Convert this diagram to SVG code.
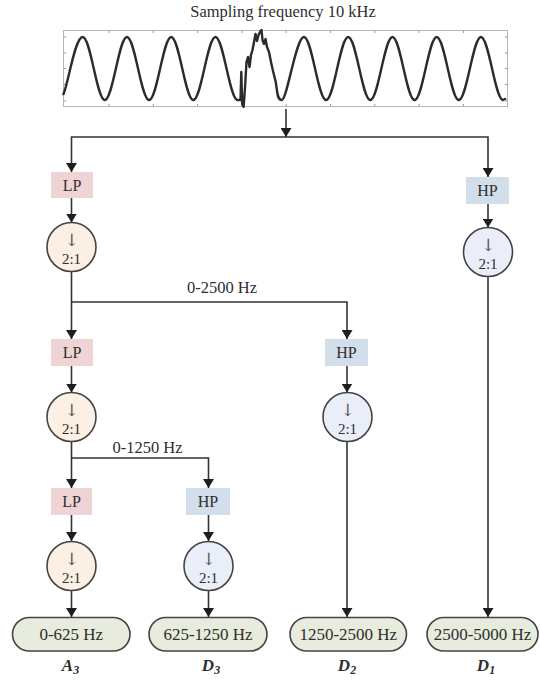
<svg xmlns="http://www.w3.org/2000/svg" width="540" height="682" viewBox="0 0 540 682">
<defs>
<style>
text{font-family:"Liberation Serif","Times New Roman",serif;fill:#2e2e2e;text-anchor:middle}
.t{font-size:16.5px}
.bx{font-size:16px}
.ds{font-size:15px}
.ar{font-size:17px;fill:#555;font-family:"DejaVu Serif","Liberation Serif",serif}
.pt{font-size:17px}
.lb{font-size:17px;font-weight:bold;font-style:italic}
.ln{stroke:#333;stroke-width:1.6;fill:none}
.lp{fill:#eed4d4}
.hp{fill:#d2deea}
.cl{fill:#fcefe3;stroke:#444;stroke-width:1.6}
.ch{fill:#eaeef8;stroke:#444;stroke-width:1.6}
.pill{fill:#e8ecdc;stroke:#444;stroke-width:1.6}
.tk{stroke:#999;stroke-width:1}
</style>
<marker id="ah" viewBox="0 0 9 11" refX="9" refY="5.5" markerWidth="9" markerHeight="11" markerUnits="userSpaceOnUse" orient="auto">
<path d="M0,0 L9,5.5 L0,11 z" fill="#1e1e1e"/>
</marker>
</defs>
<rect width="540" height="682" fill="#ffffff"/>

<g id="title"><text class="t" x="283" y="17">Sampling frequency 10 kHz</text></g>

<g id="signal">
<rect x="63.5" y="30.5" width="444" height="76" fill="none" stroke="#b5b5b5" stroke-width="1"/>
<path class="tk" d="M109,31v2M153.3,31v2M197.6,31v2M241.9,31v2M286.2,31v2M330.5,31v2M374.8,31v2M419.1,31v2M463.4,31v2M109,106v-2M153.3,106v-2M197.6,106v-2M241.9,106v-2M286.2,106v-2M330.5,106v-2M374.8,106v-2M419.1,106v-2M463.4,106v-2M64,37h2M64,53h2M64,68.5h2M64,84.5h2M64,101h2M507,37h-2M507,53h-2M507,68.5h-2M507,84.5h-2M507,101h-2"/>
<path fill="none" stroke="#2b2b2b" stroke-width="2.4" stroke-linejoin="round" d="M63,95 C68,86 74.66,37 82.7,37 S96.76,100 104.8,100 S118.91,37 126.95,37 S141.06,100 149.1,100 S163.16,37 171.2,37 S185.26,100 193.3,100 S207.41,37 215.45,37 S229.56,100 237.6,100 L240.5,100 L241.3,72 L242.2,104 L243.6,107 L245,88 L246.5,62 L248,57 L249.5,67 L251,55 L252.5,50 L254,42 L255.5,34 L257,41 L258.5,35 L260,32 L261.5,30 L262.5,40 L264,44 L265.5,39 L267,47 L269,52 L271,62 L273,71 L275.5,81 C277.5,90 276.5,100 281.8,100 S295.91,37 303.95,37 S318.06,100 326.1,100 S340.16,37 348.2,37 S362.26,100 370.3,100 S384.41,37 392.45,37 S406.56,100 414.6,100 S428.66,37 436.7,37 S450.76,100 458.8,100 S472.91,37 480.95,37 S495.06,100 503.1,100 L506,98.5"/>
</g>

<g id="connectors">
<path class="ln" d="M286,109 V137" marker-end="url(#ah)"/>
<path class="ln" d="M286,137 H71.5 V172" marker-end="url(#ah)"/>
<path class="ln" d="M286,137 H488 V177" marker-end="url(#ah)"/>
<path class="ln" d="M71.5,198 V222.5" marker-end="url(#ah)"/>
<path class="ln" d="M488,204 V227.5" marker-end="url(#ah)"/>
<path class="ln" d="M71.5,271.5 V339" marker-end="url(#ah)"/>
<path class="ln" d="M71.5,302 H347 V339" marker-end="url(#ah)"/>
<path class="ln" d="M488,276.5 V617" marker-end="url(#ah)"/>
<path class="ln" d="M71.5,366 V392.5" marker-end="url(#ah)"/>
<path class="ln" d="M347,366 V392.5" marker-end="url(#ah)"/>
<path class="ln" d="M347,441.5 V617" marker-end="url(#ah)"/>
<path class="ln" d="M71.5,441.5 V488" marker-end="url(#ah)"/>
<path class="ln" d="M71.5,458 H208.5 V488" marker-end="url(#ah)"/>
<path class="ln" d="M71.5,515 V541" marker-end="url(#ah)"/>
<path class="ln" d="M208.5,515 V541" marker-end="url(#ah)"/>
<path class="ln" d="M71.5,591 V617" marker-end="url(#ah)"/>
<path class="ln" d="M208.5,591 V617" marker-end="url(#ah)"/>
<text class="t" x="222" y="293">0-2500 Hz</text>
<text class="t" x="147.5" y="453">0-1250 Hz</text>
</g>

<g id="lp1"><rect class="lp" x="51" y="172" width="42" height="26"/><text class="bx" x="72" y="190.5">LP</text></g>
<g id="down1"><circle class="cl" cx="71.5" cy="247" r="24.5"/><text class="ar" x="71.5" y="245.5">↓</text><text class="ds" x="71.5" y="263.5">2:1</text></g>
<g id="hp1"><rect class="hp" x="466" y="177" width="43" height="27"/><text class="bx" x="487.5" y="196">HP</text></g>
<g id="downh1"><circle class="ch" cx="488" cy="252" r="24.5"/><text class="ar" x="488" y="250.5">↓</text><text class="ds" x="488" y="268.5">2:1</text></g>

<g id="lp2"><rect class="lp" x="51" y="339" width="42" height="27"/><text class="bx" x="72" y="358">LP</text></g>
<g id="down2"><circle class="cl" cx="71.5" cy="417" r="24.5"/><text class="ar" x="71.5" y="415.5">↓</text><text class="ds" x="71.5" y="433.5">2:1</text></g>
<g id="hp2"><rect class="hp" x="325" y="339" width="43" height="27"/><text class="bx" x="346.5" y="358">HP</text></g>
<g id="downh2"><circle class="ch" cx="347.5" cy="417" r="24.5"/><text class="ar" x="347.5" y="415.5">↓</text><text class="ds" x="347.5" y="433.5">2:1</text></g>

<g id="lp3"><rect class="lp" x="51" y="488" width="41" height="27"/><text class="bx" x="71.5" y="507">LP</text></g>
<g id="down3"><circle class="cl" cx="71.5" cy="566" r="24.5"/><text class="ar" x="71.5" y="564.5">↓</text><text class="ds" x="71.5" y="582.5">2:1</text></g>
<g id="hp3"><rect class="hp" x="186" y="488" width="44" height="27"/><text class="bx" x="208" y="507">HP</text></g>
<g id="downh3"><circle class="ch" cx="208.5" cy="566" r="24.5"/><text class="ar" x="208.5" y="564.5">↓</text><text class="ds" x="208.5" y="582.5">2:1</text></g>

<g id="a3"><rect class="pill" x="12.5" y="617.5" width="117.5" height="33.5" rx="16.75"/><text class="pt" x="71.3" y="640">0-625 Hz</text><text class="lb" x="70.5" y="671">A<tspan font-size="12" dy="3">3</tspan></text></g>
<g id="d3"><rect class="pill" x="149" y="617.5" width="118" height="33.5" rx="16.75"/><text class="pt" x="208" y="640">625-1250 Hz</text><text class="lb" x="211" y="671">D<tspan font-size="12" dy="3">3</tspan></text></g>
<g id="d2"><rect class="pill" x="290" y="617.5" width="116.5" height="33.5" rx="16.75"/><text class="pt" x="348.3" y="640">1250-2500 Hz</text><text class="lb" x="347" y="671">D<tspan font-size="12" dy="3">2</tspan></text></g>
<g id="d1"><rect class="pill" x="427" y="617.5" width="111" height="33.5" rx="16.75"/><text class="pt" x="482.5" y="640">2500-5000 Hz</text><text class="lb" x="486" y="671">D<tspan font-size="12" dy="3">1</tspan></text></g>
</svg>
